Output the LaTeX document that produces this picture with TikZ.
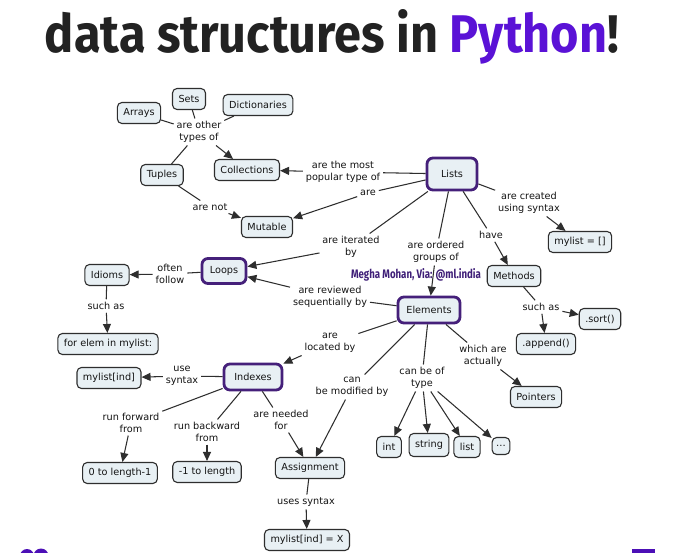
\documentclass[tikz,border=0pt]{standalone}
\usepackage{fontspec}
\setmainfont{DejaVu Sans}
\newfontfamily\titlefont{Fira Sans}
\usepackage{graphicx}
\usetikzlibrary{arrows.meta}
\definecolor{boxfill}{HTML}{E8F0F4}
\definecolor{boxline}{HTML}{2E2E2E}
\definecolor{purpb}{HTML}{45207A}
\definecolor{txt}{HTML}{141414}
\definecolor{creditp}{HTML}{3F1F78}
\definecolor{pyp}{HTML}{5A12D6}
\definecolor{titlec}{HTML}{222222}
\newcommand\mapfont{\fontsize{9.7}{11.6}\selectfont}
\begin{document}
\begin{tikzpicture}[x=1pt,y=-1pt,
  box/.style={draw=boxline, line width=1.1pt, rounded corners=4.5pt, fill=boxfill,
    inner xsep=6pt, inner ysep=2pt, minimum height=21pt, font=\mapfont, text=txt},
  pbox/.style={box, draw=purpb, line width=2.8pt, rounded corners=6pt},
  lbl/.style={inner sep=1pt, outer sep=2pt, align=center, font=\mapfont, text=txt},
  con/.style={draw=boxline, line width=1.05pt},
  arr/.style={con, -{Triangle[length=9pt,width=8pt]}}]
\clip (0,0) rectangle (680,552);
\useasboundingbox[fill=white] (0,0) rectangle (680,552);
\node[anchor=base, inner sep=0] (title) at (332,52)
  {\resizebox{574pt}{43pt}{\titlefont\bfseries\color{titlec}data structures in \textcolor{pyp}{Python}!}};
% boxes
\node[box] (sets) at (189,99) {Sets};
\node[box] (dict) at (258,105) {Dictionaries};
\node[box] (arrays) at (139,113) {Arrays};
\node[box] (tuples) at (162,175) {Tuples};
\node[box] (coll) at (247,170) {Collections};
\node[box] (mutable) at (267,227) {Mutable};
\node[box] (mylist) at (580,242) {mylist = []};
\node[box] (methods) at (514,276) {Methods};
\node[box] (idioms) at (107,275) {Idioms};
\node[box] (sort) at (600,319) {.sort()};
\node[box] (forelem) at (108,344) {for elem in mylist:};
\node[box] (append) at (546,344) {.append()};
\node[box] (mylistind) at (109,378) {mylist[ind]};
\node[box] (pointers) at (536,397) {Pointers};
\node[box] (int) at (389,447) {int};
\node[box, minimum height=23pt] (string) at (429,445) {string};
\node[box] (list) at (467,447) {list};
\node[box, minimum height=17pt, inner xsep=4pt] (dots) at (501,446) {…};
\node[box] (zero) at (120,473) {0 to length-1};
\node[box] (minus) at (207,472) {-1 to length};
\node[box] (assign) at (310,468) {Assignment};
\node[box] (mylistx) at (307,540) {mylist[ind] = X};
% purple boxes
\node[pbox, minimum width=50pt, minimum height=32pt] (lists) at (452,174) {Lists};
\node[pbox, minimum width=44pt, minimum height=25pt] (loops) at (224,271) {Loops};
\node[pbox, minimum width=62pt, minimum height=26pt] (elements) at (429,310) {Elements};
\node[pbox, minimum width=58pt, minimum height=26pt] (indexes) at (253,377) {Indexes};
% labels
\node[lbl] (otherl) at (199,132) {are other\\types of};
\node[lbl] (mostl) at (343,172) {are the most\\popular type of};
\node[lbl] (arel) at (368,193) {are};
\node[lbl] (notl) at (210,207) {are not};
\node[lbl] (createdl) at (529,203) {are created\\using syntax};
\node[lbl] (iterl) at (351,247) {are iterated\\by};
\node[lbl] (orderedl) at (436,252) {are ordered\\groups of};
\node[lbl] (havel) at (491,235) {have};
\node[lbl] (oftenl) at (170,274) {often\\follow};
\node[lbl] (suchl1) at (106,306) {such as};
\node[lbl] (reviewedl) at (330,297) {are reviewed\\sequentially by};
\node[lbl] (suchl2) at (541,307) {such as};
\node[lbl] (locatedl) at (330,343) {are\\located by};
\node[lbl] (whichl) at (483,356) {which are\\actually};
\node[lbl] (usel) at (182,376) {use\\syntax};
\node[lbl] (modl) at (352,387) {can\\be modified by};
\node[lbl] (typel) at (422,378) {can be of\\type};
\node[lbl] (fwdl) at (131,423) {run forward\\from};
\node[lbl] (bwdl) at (207,432) {run backward\\from};
\node[lbl] (neededl) at (281,420) {are needed\\for};
\node[lbl] (usesl) at (306,502) {uses syntax};
% credit
\node[inner sep=0] (credit) at (416,275)
  {\resizebox{130pt}{10pt}{\titlefont\bfseries\color{creditp}Megha Mohan, Via: @ml.india}};
% connectors
\draw[con] (arrays) -- (otherl);
\draw[con] (sets) -- (otherl);
\draw[con] (dict) -- (otherl);
\draw[con] (otherl) -- (tuples);
\draw[arr] (otherl) -- (coll);
\draw[con] (lists) -- (mostl);
\draw[arr] (mostl) -- (coll);
\draw[con] (lists) -- (arel);
\draw[arr] (arel) -- (mutable);
\draw[con] (tuples) -- (notl);
\draw[arr] (notl) -- (mutable);
\draw[con] (lists) -- (createdl);
\draw[arr] (createdl) -- (mylist);
\draw[con] (lists) -- (iterl);
\draw[arr] (iterl) -- (loops);
\draw[con] (lists) -- (orderedl);
\draw[arr] (orderedl) -- (elements);
\draw[con] (lists) -- (havel);
\draw[arr] (havel) -- (methods);
\draw[con] (loops) -- (oftenl);
\draw[arr] (oftenl) -- (idioms);
\draw[con] (idioms) -- (suchl1);
\draw[arr] (suchl1) -- (forelem);
\draw[con] (elements) -- (reviewedl);
\draw[arr] (reviewedl) -- (loops);
\draw[con] (methods) -- (suchl2);
\draw[arr] (suchl2) -- (sort);
\draw[arr] (suchl2) -- (append);
\draw[con] (elements) -- (locatedl);
\draw[arr] (locatedl) -- (indexes);
\draw[con] (elements) -- (whichl);
\draw[arr] (whichl) -- (pointers);
\draw[con] (elements) -- (modl);
\draw[arr] (modl) -- (assign);
\draw[con] (elements) -- (typel);
\draw[arr] (typel) -- (int);
\draw[arr] (typel) -- (string);
\draw[arr] (typel) -- (list);
\draw[arr] (typel) -- (dots);
\draw[con] (indexes) -- (usel);
\draw[arr] (usel) -- (mylistind);
\draw[con] (indexes) -- (fwdl);
\draw[arr] (fwdl) -- (zero);
\draw[con] (indexes) -- (bwdl);
\draw[arr] (bwdl) -- (minus);
\draw[con] (indexes) -- (neededl);
\draw[arr] (neededl) -- (assign);
\draw[con] (assign) -- (usesl);
\draw[arr] (usesl) -- (mylistx);
% cut-off corner marks
\fill[pyp!85!black] (27,556) circle (7);
\fill[pyp!85!black] (41,556) circle (7.5);
\fill[pyp!85!black] (632,549) rectangle (655,556);
\end{tikzpicture}
\end{document}
